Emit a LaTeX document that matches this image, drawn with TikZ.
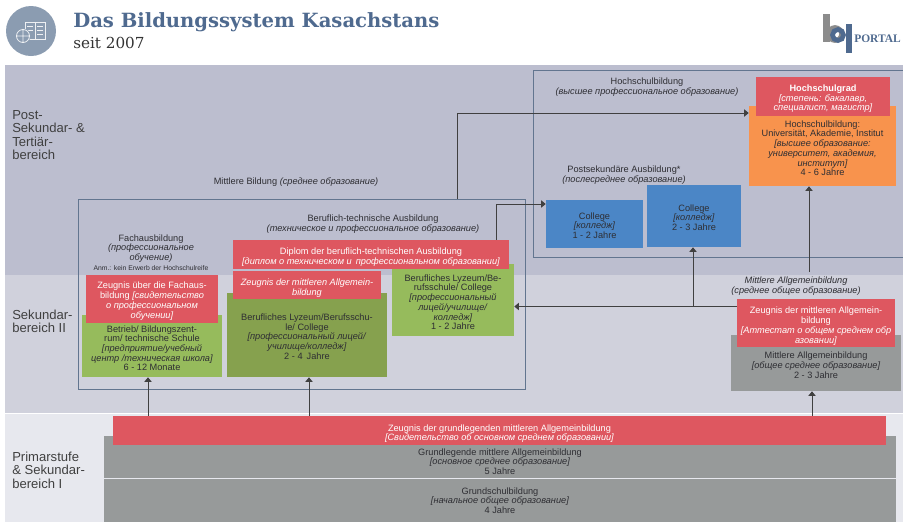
\documentclass[tikz,border=0pt]{standalone}
\usepackage{fontspec}
\usepackage{tikz}
\usetikzlibrary{arrows.meta}
\setmainfont{Liberation Sans}
\newfontfamily\slabfont{DejaVu Serif}
\newfontfamily\logofont{Liberation Serif}

\definecolor{bandA}{HTML}{BCBECF}
\definecolor{bandB}{HTML}{D0D1DC}
\definecolor{bandC}{HTML}{E7E8EE}
\definecolor{frameblue}{HTML}{62758F}
\definecolor{titleblue}{HTML}{4F6A8F}
\definecolor{iconblue}{HTML}{8B9CB1}
\definecolor{redbox}{HTML}{DE5760}
\definecolor{orangebox}{HTML}{F8934D}
\definecolor{greenbox}{HTML}{96BB5C}
\definecolor{darkgreen}{HTML}{86A14E}
\definecolor{bluebox}{HTML}{4B86C6}
\definecolor{graybox}{HTML}{979A9A}
\definecolor{inktext}{HTML}{2E2E33}

\tikzset{
  sz/.style 2 args={minimum width=#1*0.75pt, minimum height=#2*0.75pt},
  box/.style={inner sep=0pt, align=center, font=\fontsize{6.9}{7.3}\selectfont, text=inktext},
  redtext/.style={box, fill=redbox, text=white},
  txt/.style={inner sep=0pt, align=center, font=\fontsize{6.9}{7.3}\selectfont, text=inktext},
  sidetxt/.style={inner sep=0pt, align=left, anchor=west, font=\fontsize{9.8}{10}\selectfont, text=black!75},
  frame/.style={draw=frameblue, line width=0.7pt},
  arr/.style={draw=black!75, line width=0.75pt, -{Triangle[length=3.5pt, width=5.5pt]}}
}

\begin{document}
\begin{tikzpicture}[x=0.75pt, y=-0.75pt]
  \useasboundingbox (0,0) rectangle (903,522);

  \fill[iconblue] (31,31) circle [radius=25];
  \draw[white!85!iconblue, line width=0.6pt] (25,22) rectangle (35,39) (35,22) rectangle (45,39);
  \draw[white!85!iconblue, line width=0.5pt] (27,26) -- (33,26) (27,30) -- (33,30) (37,26) -- (43,26) (37,30) -- (43,30) (37,34) -- (43,34);
  \fill[iconblue] (23,36) circle [radius=7.5];
  \draw[white!85!iconblue, line width=0.6pt] (23,36) circle [radius=6.5] (16.5,36) -- (29.5,36) (23,29.5) -- (23,42.5);
  \node[inner sep=0pt, anchor=base west, text=titleblue, font=\slabfont\bfseries\fontsize{14.7}{16}\selectfont] (title) at (73,27) {Das Bildungssystem Kasachstans};
  \node[inner sep=0pt, anchor=base west, text=black!80, font=\slabfont\fontsize{11.4}{13}\selectfont] (sub) at (73,48) {seit 2007};

  \fill[gray!90] (823,14) rectangle (830,42);
  \draw[gray!90, line width=3.5pt] (835,34) circle [radius=6.5];
  \draw[titleblue, line width=3.5pt] (838,35) circle [radius=5.5];
  \fill[titleblue] (846,24) rectangle (852,53);
  \node[inner sep=0pt, anchor=base west, text=titleblue, font=\logofont\bfseries\fontsize{8.6}{10}\selectfont] (portal) at (854,42) {PORTAL};

  \node[sz={898}{210}, fill=bandA, inner sep=0pt] (post) at (454,170) {};
  \node[sz={898}{138}, fill=bandB, inner sep=0pt] (sek) at (454,344) {};
  \node[sz={898}{108}, fill=bandC, inner sep=0pt] (prim) at (454,468) {};

  \node[sidetxt] (postL) at (12,135) {Post-\\Sekundar- \&\\Tertiär-\\bereich};
  \node[sidetxt] (sekL) at (12,321.5) {Sekundar-\\bereich II};
  \node[sidetxt] (primL) at (12,470) {Primarstufe\\\& Sekundar-\\bereich I};

  \node[frame, sz={447}{190}, inner sep=0pt] (MB) at (301.5,294) {};
  \node[frame, sz={372}{187}, inner sep=0pt] (HB) at (719,163.5) {};

  \node[txt] (MBt) at (296,182) {Mittlere Bildung \textit{(среднее образование)}};
  \node[txt] (BTt) at (373,224) {Beruflich-technische Ausbildung\\\textit{(техническое и профессиональное образование)}};
  \node[txt] (FAt) at (151,248.5) {Fachausbildung\\\textit{(профессиональное}\\\textit{обучение)}};
  \node[txt, font=\fontsize{5.1}{6}\selectfont] (ANt) at (151,268) {Anm.: kein Erwerb der Hochschulreife};
  \node[txt] (HBt) at (647,87) {Hochschulbildung\\\textit{(высшее профессиональное образование)}};
  \node[txt] (PSt) at (624,175) {Postsekundäre Ausbildung*\\\textit{(послесреднее образование)}};
  \node[txt] (MAt) at (796,286) {\textit{Mittlere Allgemeinbildung}\\\textit{(среднее общее образование)}};

  \node[box, sz={147}{80}, fill=orangebox] (HS) at (822.5,146) {\\[1pt]Hochschulbildung:\\Universität, Akademie, Institut\\\textit{[высшее образование:}\\\textit{университет, академия,}\\\textit{институт]}\\4 - 6 Jahre};
  \node[redtext, sz={134}{39}] (HG) at (823,96.5) {\\[1pt]\textbf{Hochschulgrad}\\\textit{[степень: бакалавр,}\\\textit{специалист, магистр]}};

  \node[box, sz={97}{48}, fill=bluebox] (C1) at (594.5,224) {\\[0pt]College\\\textit{[колледж]}\\1 - 2 Jahre};
  \node[box, sz={94}{62}, fill=bluebox] (C2) at (694,216) {\\[0pt]College\\\textit{[колледж]}\\2 - 3 Jahre};

  \node[box, sz={140}{62}, fill=greenbox] (FG) at (152,346) {\\[1pt]Betrieb/ Bildungszent-\\rum/ technische Schule\\\textit{[предприятие/учебный}\\\textit{центр /техническая школа]}\\6 - 12 Monate};
  \node[redtext, sz={132}{48}] (FZ) at (152,299) {\\[1pt]Zeugnis über die Fachaus-\\bildung \textit{[свидетельство}\\\textit{о профессиональном}\\\textit{обучении]}};

  \node[box, sz={160}{84}, fill=darkgreen] (DG) at (307,335) {\\[0pt]Berufliches Lyzeum/Berufsschu-\\le/ College\\\textit{[профессиональный лицей/}\\\textit{училище/колледж]}\\2 - 4\, Jahre};
  \node[redtext, sz={148}{28}] (DZ) at (307,285) {\\[2.5pt]\textit{Zeugnis der mittleren Allgemein-}\\\textit{bildung}};

  \node[box, sz={122}{72}, fill=greenbox] (LG) at (453,300) {\\[1pt]Berufliches Lyzeum/Be-\\rufsschule/ College\\\textit{[профессиональный}\\\textit{лицей/училище/}\\\textit{колледж]}\\1 - 2 Jahre};
  \node[redtext, sz={276}{29}] (DP) at (371,254.5) {\\[2pt]Diplom der beruflich-technischen Ausbildung\\\textit{[диплом о техническом и\, профессиональном образовании]}};

  \node[box, sz={170}{56}, fill=graybox] (MG) at (816,363) {\\[1pt]Mittlere Allgemeinbildung\\\textit{[общее среднее образование]}\\2 - 3 Jahre};
  \node[redtext, sz={158}{48}] (MZ) at (816,323) {\\[2.5pt]Zeugnis der mittleren Allgemein-\\bildung\\\textit{[Аттестат о общем среднем обр}\\\textit{азовании]}};

  \node[box, sz={792}{42}, fill=graybox] (GM) at (500,457) {};
  \node[txt] (GMt) at (500,461.5) {Grundlegende mittlere Allgemeinbildung\\\textit{[основное среднее образование]}\\5 Jahre};
  \node[box, sz={792}{43}, fill=graybox] (GS) at (500,500.5) {Grundschulbildung\\\textit{[начальное общее образование]}\\4 Jahre};
  \node[redtext, sz={773}{29}] (ZG) at (499.5,430.5) {\\[2.5pt]Zeugnis der grundlegenden mittleren Allgemeinbildung\\\textit{[Свидетельство об основном среднем образовании]}};

  \coordinate (a1) at (148,400);
  \coordinate (a2) at (309,400);
  \coordinate (a3) at (812,400);
  \coordinate (a4) at (809,272);
  \coordinate (a5) at (693,306.5);
  \coordinate (a6) at (457,113);
  \coordinate (a7) at (496,204);

  \draw[arr] (a1 |- ZG.north) -- (a1 |- FG.south);
  \draw[arr] (a2 |- ZG.north) -- (a2 |- DG.south);
  \draw[arr] (a3 |- ZG.north) -- (a3 |- MG.south);
  \draw[arr] (a4) -- (a4 |- HS.south);
  \draw[arr] (a5 -| MZ.west) -- (a5 -| LG.east);
  \draw[arr] (a5) -- (a5 |- C2.south);
  \draw[arr] (a6 |- MB.north) -- (a6) -- (a6 -| HS.west);
  \draw[arr] (a7 |- DP.north) -- (a7) -- (a7 -| C1.west);
\end{tikzpicture}
\end{document}
